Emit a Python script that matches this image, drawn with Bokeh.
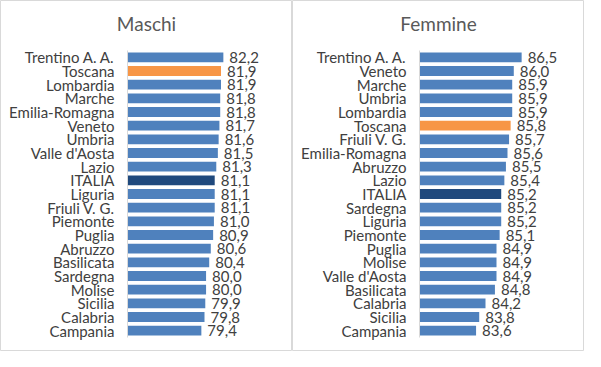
from bokeh.plotting import figure
from bokeh.layouts import row
from bokeh.models import Range1d, Label, ColumnDataSource
from bokeh.core.properties import value
from bokeh.embed import file_html
from bokeh.resources import INLINE

# ---------------- data ----------------
m_title = "Maschi"
m_regions = ["Trentino A. A.", "Toscana", "Lombardia", "Marche", "Emilia-Romagna",
             "Veneto", "Umbria", "Valle d'Aosta", "Lazio", "ITALIA", "Liguria",
             "Friuli V. G.", "Piemonte", "Puglia", "Abruzzo", "Basilicata",
             "Sardegna", "Molise", "Sicilia", "Calabria", "Campania"]
m_values = [82.2, 81.9, 81.9, 81.8, 81.8, 81.7, 81.6, 81.5, 81.3, 81.1, 81.1,
            81.1, 81.0, 80.9, 80.6, 80.4, 80.0, 80.0, 79.9, 79.8, 79.4]
m_axis = (70, 84)

f_title = "Femmine"
f_regions = ["Trentino A. A.", "Veneto", "Marche", "Umbria", "Lombardia",
             "Toscana", "Friuli V. G.", "Emilia-Romagna", "Abruzzo", "Lazio",
             "ITALIA", "Sardegna", "Liguria", "Piemonte", "Puglia", "Molise",
             "Valle d'Aosta", "Basilicata", "Calabria", "Sicilia", "Campania"]
f_values = [86.5, 86.0, 85.9, 85.9, 85.9, 85.8, 85.7, 85.6, 85.5, 85.4,
            85.2, 85.2, 85.2, 85.1, 84.9, 84.9, 84.9, 84.8, 84.2, 83.8, 83.6]
f_axis = (80, 87)

highlight = {"Toscana": "#F79646", "ITALIA": "#1F497D"}
base_color = "#4F81BD"

# ---------------- layout ----------------
W, H = 292, 351
PLOT_LEFT, PLOT_W = 127, 110
PLOT_TOP, PLOT_BOTTOM = 50, 337
FONT = "Lato"
TEXT_COLOR = "#404040"
BORDER = "#D9D9D9"


def panel(title, regions, values, axis):
    n = len(regions)
    ppu = PLOT_W / (axis[1] - axis[0])
    xs = axis[0] - PLOT_LEFT / ppu
    xe = xs + W / ppu
    band = (PLOT_BOTTOM - PLOT_TOP) / n
    y_top = -0.5 - PLOT_TOP / band
    y_bot = -0.5 + (H - PLOT_TOP) / band

    src = ColumnDataSource(dict(
        y=list(range(n)),
        v=values,
        name=regions,
        lab=[f"{v:.1f}".replace(".", ",") for v in values],
        c=[highlight.get(r, base_color) for r in regions],
    ))

    p = figure(width=W, height=H, x_range=Range1d(xs, xe),
               y_range=Range1d(y_bot, y_top),
               x_axis_type=None, y_axis_type=None,
               output_backend="svg", toolbar_location=None,
               min_border=0, outline_line_color=BORDER, outline_line_width=1,
               background_fill_color="white", border_fill_color="white")
    p.grid.visible = False

    p.hbar(y="y", left=axis[0], right="v", height=0.72, fill_color="c",
           line_color=None, source=src)
    p.segment(x0=axis[0], y0=-0.5, x1=axis[0], y1=n - 0.5,
              line_color=BORDER, line_width=1)
    p.text(x=axis[0], y="y", text="name", source=src, x_offset=-13,
           text_align="right", text_baseline="middle",
           text_font=value(FONT), text_font_size="15px", text_color=TEXT_COLOR)
    p.text(x="v", y="y", text="lab", source=src, x_offset=6,
           text_align="left", text_baseline="middle",
           text_font=value(FONT), text_font_size="15px", text_color=TEXT_COLOR)

    p.add_layout(Label(x=W / 2, y=H - 23, x_units="screen", y_units="screen",
                       text=title, text_align="center", text_baseline="middle",
                       text_font=FONT, text_font_size="19px",
                       text_color="#595959"))
    return p


p1 = panel(m_title, m_regions, m_values, m_axis)
p2 = panel(f_title, f_regions, f_values, f_axis)
layout = row(p1, p2, spacing=0)

open("out.html", "w").write(file_html(layout, INLINE))
